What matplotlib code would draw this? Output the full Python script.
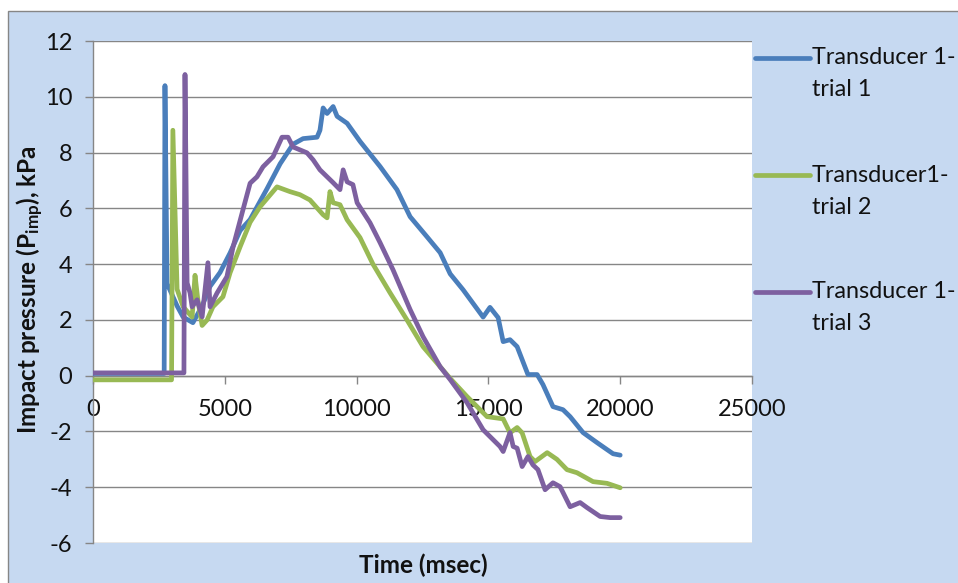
import matplotlib
matplotlib.use('Agg')
import matplotlib.pyplot as plt
from matplotlib.lines import Line2D
from matplotlib.patches import Rectangle

plt.rcParams['font.family'] = ['Lato', 'DejaVu Sans']
plt.rcParams['mathtext.default'] = 'regular'

# Impact pressure (kPa) against time (msec), three trials of transducer 1
t_trial1 = [0, 2700, 2730, 2810, 3190, 3420, 3790, 4140, 4440, 4820, 5200, 5580,
            5960, 6600, 7100, 7590, 7970, 8500, 8610, 8730, 8880, 9110, 9260,
            9640, 10130, 10890, 11530, 12030, 12670, 13170, 13550, 14040, 14800,
            15060, 15370, 15560, 15820, 16090, 16500, 16850, 17070, 17450, 17830,
            18100, 18590, 19120, 19500, 19730, 20000]
p_trial1 = [0.08, 0.08, 10.4, 3.3, 2.5, 2.1, 1.9, 2.5, 3.2, 3.7, 4.4, 5.2,
            5.6, 6.7, 7.6, 8.3, 8.5, 8.55, 8.8, 9.6, 9.4, 9.65, 9.3,
            9.05, 8.4, 7.5, 6.67, 5.7, 4.98, 4.41, 3.65, 3.08, 2.1,
            2.45, 2.08, 1.22, 1.29, 1.04, 0.04, 0.04, -0.32, -1.11, -1.22,
            -1.47, -2.04, -2.4, -2.65, -2.8, -2.85]

t_trial2 = [0, 2980, 3030, 3190, 3420, 3760, 3870, 3980, 4140, 4330, 4550, 4930,
            5200, 5580, 5960, 6340, 6980, 7470, 7850, 8230, 8730, 8880, 8990,
            9110, 9370, 9640, 10130, 10620, 11270, 11910, 12520, 13170, 13550,
            14190, 14950, 15560, 15820, 16090, 16280, 16580, 16770, 17230, 17600,
            17980, 18360, 18970, 19500, 20000]
p_trial2 = [-0.15, -0.15, 8.8, 3.1, 2.47, 2.1, 3.6, 2.7, 1.8, 2.0, 2.47, 2.83,
            3.69, 4.62, 5.5, 6.06, 6.77, 6.6, 6.49, 6.3, 5.77, 5.66, 6.6,
            6.2, 6.13, 5.59, 4.95, 4.0, 2.97, 2.0, 1.04, 0.32, -0.1,
            -0.75, -1.47, -1.55, -2.05, -1.86, -2.05, -2.9, -3.08, -2.76, -3.0,
            -3.37, -3.48, -3.8, -3.86, -4.02]

t_trial3 = [0, 3450, 3490, 3570, 3680, 3760, 3950, 4140, 4360, 4440, 4710, 5080,
            5310, 5690, 5960, 6220, 6450, 6830, 7170, 7400, 7590, 8120, 8350,
            8610, 9110, 9370, 9490, 9640, 9860, 10020, 10510, 10890, 11380,
            12030, 12520, 13170, 13550, 14190, 14800, 15440, 15560, 15820, 15940,
            16090, 16280, 16500, 16690, 16880, 17150, 17450, 17720, 18100, 18480,
            18740, 19240, 19620, 20000]
p_trial3 = [0.1, 0.1, 10.8, 3.33, 2.97, 2.47, 2.72, 2.11, 4.05, 2.47, 2.97, 3.55,
            4.6, 5.95, 6.9, 7.13, 7.49, 7.85, 8.55, 8.55, 8.2, 7.99, 7.74,
            7.38, 6.92, 6.67, 7.38, 6.95, 6.85, 6.2, 5.48, 4.77, 3.8,
            2.37, 1.4, 0.32, -0.14, -0.97, -1.94, -2.54, -2.72, -2.04, -2.54,
            -2.6, -3.26, -2.9, -3.2, -3.37, -4.09, -3.84, -3.98, -4.7, -4.55,
            -4.73, -5.05, -5.09, -5.09]

labels = ['Transducer 1-\ntrial 1', 'Transducer1-\ntrial 2', 'Transducer 1-\ntrial 3']
colors = ['#4a7ebb', '#98b954', '#7d60a0']
x_ticks = [0, 5000, 10000, 15000, 20000, 25000]
y_ticks = [-6, -4, -2, 0, 2, 4, 6, 8, 10, 12]

W, H = 958, 583
GRID = '#868686'
INK = '#111111'

fig = plt.figure(figsize=(W / 100, H / 100), dpi=100)
fig.patch.set_facecolor('white')

# chart area background with its gray frame
fig.add_artist(Rectangle((8 / W, -0.05), 1.1, 1.05 - 11 / H, transform=fig.transFigure,
                         facecolor='#c6d9f1', edgecolor=GRID, linewidth=1.0, zorder=0))

ax = fig.add_axes([93 / W, 40 / H, 659 / W, 502 / H])
ax.set_facecolor('white')

series = [(t_trial1, p_trial1), (t_trial2, p_trial2), (t_trial3, p_trial3)]
for (t, p), c in zip(series, colors):
    ax.plot(t, p, color=c, linewidth=3.4, solid_joinstyle='round',
            solid_capstyle='round', zorder=3)

ax.set_xlim(0, 25000)
ax.set_ylim(-6, 12)
ax.set_xticks(x_ticks)
ax.set_yticks(y_ticks)
ax.set_xticklabels([str(v) for v in x_ticks])
ax.set_yticklabels([str(v) for v in y_ticks])

ax.spines['top'].set_visible(False)
ax.spines['right'].set_visible(False)
ax.spines['bottom'].set_position(('data', 0))
for s in ('bottom', 'left'):
    ax.spines[s].set_color(GRID)
    ax.spines[s].set_linewidth(1.0)

ax.yaxis.grid(True, color=GRID, linewidth=1.0)
ax.set_axisbelow(True)
ax.tick_params(axis='x', direction='out', length=5.8, width=1.0, color=GRID,
               pad=11, labelsize=17, labelcolor=INK)
ax.tick_params(axis='y', direction='out', length=5.8, width=1.0, color=GRID,
               pad=9, labelsize=17, labelcolor=INK)

fig.text(423 / W, 1 - 565 / H, 'Time (msec)', ha='center', va='center',
         fontsize=17.5, fontweight='bold', color=INK)
fig.text(30 / W, 1 - 290 / H, 'Impact pressure (P$_{imp}$), kPa', ha='center',
         va='center', rotation=90, fontsize=17.5, fontweight='bold', color=INK)

# legend on the right, handle level with the first text line
for i, (lab, c) in enumerate(zip(labels, colors)):
    y0 = 58 + i * 117
    fig.add_artist(Line2D([755 / W, 810 / W], [1 - y0 / H, 1 - y0 / H],
                          transform=fig.transFigure, color=c, linewidth=3.4,
                          solid_capstyle='round'))
    first, second = lab.split('\n')
    fig.text(812 / W, 1 - y0 / H, first, ha='left', va='center', fontsize=16.8,
             color=INK)
    fig.text(812 / W, 1 - (y0 + 32) / H, second, ha='left', va='center',
             fontsize=16.8, color=INK)

fig.savefig('out.png', dpi=100)
